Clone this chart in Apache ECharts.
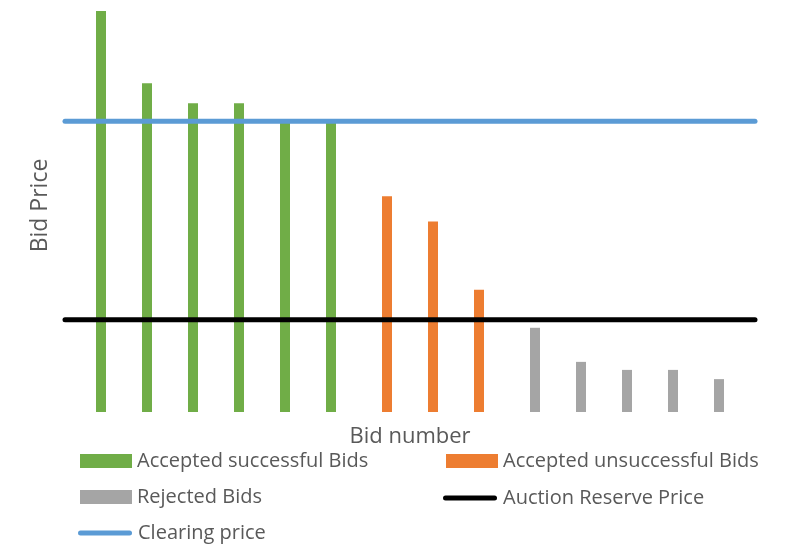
<!DOCTYPE html>
<html>
<head>
<meta charset="utf-8">
<script src="https://cdn.jsdelivr.net/npm/echarts@6/dist/echarts.min.js"></script>
<style>
  html, body { margin: 0; padding: 0; background: #fff; }
  #chart { width: 793px; height: 545px; }
</style>
</head>
<body>
<div id="chart"></div>
<script>
// Bid numbers along the x axis (one slot per bid)
const bidNumbers = ['1', '2', '3', '4', '5', '6', '7', '8', '9', '10', '11', '12', '13', '14'];

// Bid prices per outcome group (null where the bid belongs to another group)
const acceptedSuccessful   = [100, 82, 77, 77, 72.5, 72.5, null, null, null, null, null, null, null, null];
const acceptedUnsuccessful = [null, null, null, null, null, null, 53.8, 47.5, 30.5, null, null, null, null, null];
const rejectedBids         = [null, null, null, null, null, null, null, null, null, 21, 12.5, 10.5, 10.5, 8.2];

// Price levels drawn as horizontal lines across the plot
const clearingPrice = 72.5;
const reservePrice = 23;

const TEXT = '#595959';
const FONT = 'Open Sans';
const yMax = 100;

const chart = echarts.init(document.getElementById('chart'), null, { renderer: 'canvas' });

const capsule = 'path://M2.5,0 H51.5 A2.5,2.5 0 0 1 51.5,5 H2.5 A2.5,2.5 0 0 1 2.5,0 Z';

function legendBlock(name, left, top, icon, w, h) {
  return {
    data: [{ name: name, icon: icon }],
    left: left, top: top,
    itemWidth: w, itemHeight: h,
    itemGap: 0, padding: 0,
    selectedMode: false,
    textStyle: { color: TEXT, fontFamily: FONT, fontSize: 20 }
  };
}

chart.setOption({
  animation: false,
  backgroundColor: '#fff',
  grid: [
    // bars
    { left: 88, right: 793 - 732, top: 11, bottom: 545 - 412 },
    // price lines spanning the full plot width
    { left: 65, right: 793 - 755, top: 11, bottom: 545 - 412 }
  ],
  xAxis: [
    {
      type: 'category', gridIndex: 0, data: bidNumbers,
      axisLine: { show: false }, axisTick: { show: false }, axisLabel: { show: false },
      name: 'Bid number', nameLocation: 'middle', nameGap: 14,
      nameTextStyle: { color: TEXT, fontFamily: FONT, fontSize: 22 }
    },
    { type: 'value', gridIndex: 1, min: 0, max: 1, show: false }
  ],
  yAxis: [
    {
      type: 'value', gridIndex: 0, min: 0, max: yMax,
      axisLine: { show: false }, axisTick: { show: false }, axisLabel: { show: false },
      splitLine: { show: false },
      name: 'Bid Price', nameLocation: 'middle', nameGap: 36,
      nameTextStyle: { color: TEXT, fontFamily: FONT, fontSize: 23, padding: [0, 0, 0, 12] }
    },
    { type: 'value', gridIndex: 1, min: 0, max: yMax, show: false }
  ],
  legend: [
    legendBlock('Accepted successful Bids', 80, 451, 'rect', 52, 14),
    legendBlock('Accepted unsuccessful Bids', 446, 451, 'rect', 52, 14),
    legendBlock('Rejected Bids', 80, 487, 'rect', 52, 14),
    legendBlock('Auction Reserve Price', 443, 488, capsule, 56, 5),
    legendBlock('Clearing price', 78, 523, capsule, 56, 5)
  ],
  series: [
    {
      name: 'Accepted successful Bids', type: 'bar', xAxisIndex: 0, yAxisIndex: 0,
      data: acceptedSuccessful, barWidth: 10, barGap: '0%',
      itemStyle: { color: '#70AD47' }
    },
    {
      name: 'Accepted unsuccessful Bids', type: 'bar', xAxisIndex: 0, yAxisIndex: 0,
      data: acceptedUnsuccessful, barWidth: 10, barGap: '0%',
      itemStyle: { color: '#ED7D31' }
    },
    {
      name: 'Rejected Bids', type: 'bar', xAxisIndex: 0, yAxisIndex: 0,
      data: rejectedBids, barWidth: 10, barGap: '0%',
      itemStyle: { color: '#A5A5A5' }
    },
    {
      name: 'Auction Reserve Price', type: 'line', xAxisIndex: 1, yAxisIndex: 1,
      data: [[0, reservePrice], [1, reservePrice]], symbol: 'none',
      itemStyle: { color: '#000000' },
      lineStyle: { color: '#000000', width: 5, cap: 'round' }
    },
    {
      name: 'Clearing price', type: 'line', xAxisIndex: 1, yAxisIndex: 1,
      data: [[0, clearingPrice], [1, clearingPrice]], symbol: 'none',
      itemStyle: { color: '#5B9BD5' },
      lineStyle: { color: '#5B9BD5', width: 5, cap: 'round' }
    }
  ]
});
</script>
</body>
</html>
